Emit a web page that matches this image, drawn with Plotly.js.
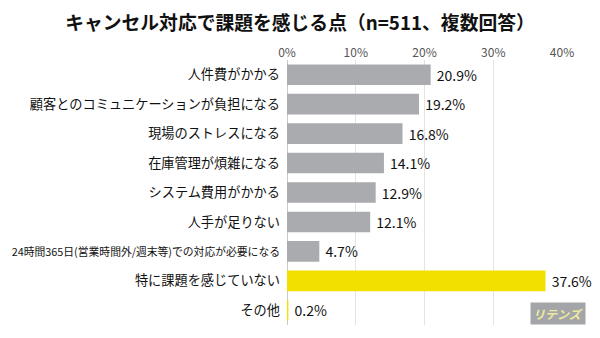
<!DOCTYPE html>
<html><head><meta charset="utf-8">
<script src="https://cdn.plot.ly/plotly-3.0.1.min.js"></script>
<style>html,body{margin:0;padding:0;background:#fff}#c{width:600px;height:338px}</style>
</head><body><div id="c"></div>
<script>
const categories = [
  "人件費がかかる",
  "顧客とのコミュニケーションが負担になる",
  "現場のストレスになる",
  "在庫管理が煩雑になる",
  "システム費用がかかる",
  "人手が足りない",
  "24時間365日(営業時間外/週末等)での対応が必要になる",
  "特に課題を感じていない",
  "その他"
];
const values = [20.9, 19.2, 16.8, 14.1, 12.9, 12.1, 4.7, 37.6, 0.2];
const highlight = [false, false, false, false, false, false, false, true, true];
const tickVals = [0, 10, 20, 30, 40];
const tickText = ["0%", "10%", "20%", "30%", "40%"];

const GRAY = "#a9abae", YELLOW = "#f2e000";
const labels = categories.map(c => c.length > 20 ? '<span style="font-size:10.8px">' + c + '</span>' : c);

const trace = {
  type: "bar", orientation: "h",
  x: values, y: labels,
  marker: {color: highlight.map(h => h ? YELLOW : GRAY), line: {width: 0}},
  text: values.map(v => " " + v.toFixed(1) + "%"),
  textposition: "outside", cliponaxis: false,
  textfont: {family: "Noto Sans CJK JP", size: 14, color: "#111"},
  hoverinfo: "none"
};

const layout = {
  width: 600, height: 338,
  margin: {l: 287, r: 38, t: 60, b: 13},
  paper_bgcolor: "#fff", plot_bgcolor: "#fff",
  showlegend: false, bargap: 0.3,
  font: {family: "Noto Sans CJK JP", color: "#111"},
  title: {text: "<b>キャンセル対応で課題を感じる点（n=511、複数回答）</b>", x: 0.5, xanchor: "center", y: 0.93, yanchor: "middle",
    font: {family: "Noto Sans CJK JP", size: 18.8, color: "#111"}},
  xaxis: {side: "top", range: [0, 40], tickvals: tickVals, ticktext: tickText,
    showgrid: true, gridcolor: "#e3e3e3", gridwidth: 1, zeroline: true, zerolinecolor: "#c9c9c9", zerolinewidth: 1,
    showline: false, ticks: "", tickfont: {size: 12, color: "#555", family: "Noto Sans CJK JP"}, fixedrange: true},
  yaxis: {autorange: "reversed", ticks: "", showline: false, ticklabelstandoff: 6,
    tickfont: {size: 13.2, color: "#111", family: "Noto Sans CJK JP"}, fixedrange: true},
  annotations: [{
    xref: "paper", yref: "paper", x: 1.087, y: 0.0, xanchor: "right", yanchor: "bottom",
    text: "<b><i>リテンズ</i></b>", showarrow: false, bgcolor: "#a3a5a8",
    font: {family: "Noto Sans CJK JP", size: 12, color: "#eeeaa0"}, borderpad: 2
  }]
};

Plotly.newPlot("c", [trace], layout, {displayModeBar: false, staticPlot: true});
</script></body></html>
